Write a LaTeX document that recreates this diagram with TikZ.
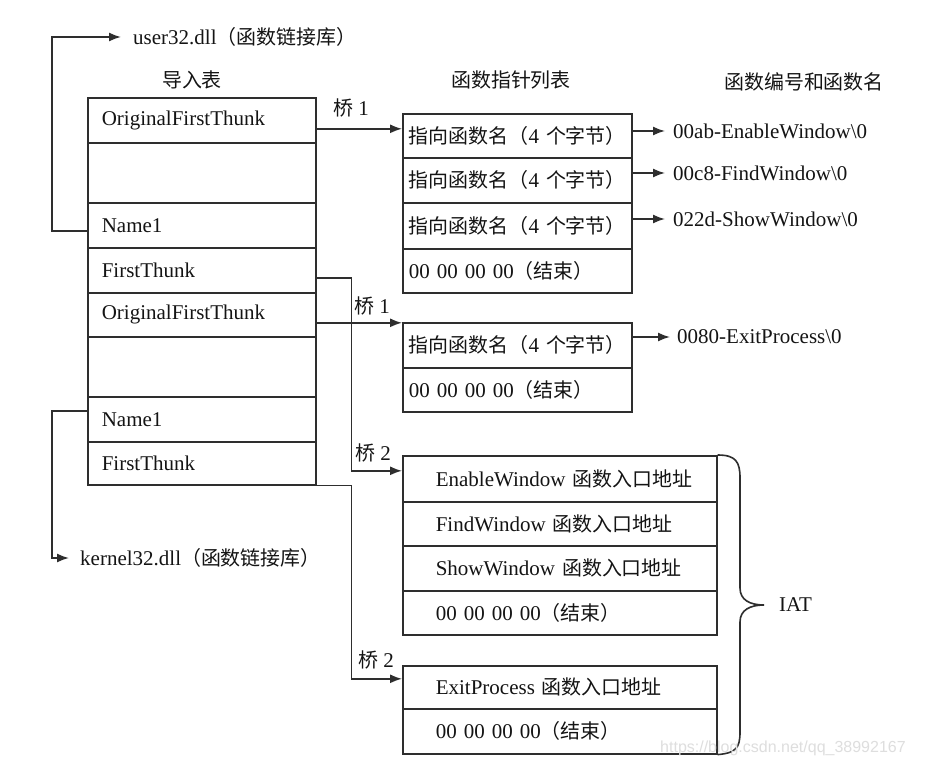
\documentclass[tikz,border=0pt]{standalone}
\usepackage{fontspec}
\setmainfont{Liberation Serif}
\newfontfamily\cjk{Noto Sans CJK SC}[Scale=0.95]
\newfontfamily\wmfont{Liberation Sans}
\usetikzlibrary{arrows.meta,calc}
\newcommand\zh[1]{{\cjk #1}}
\begin{document}
\begin{tikzpicture}[x=1pt,y=-1pt,
  every node/.style={font=\fontsize{21}{25}\selectfont, text=black!92},
  cell/.style={draw=black!82, line width=1.6pt, anchor=north west, inner ysep=0pt, align=left},
  itcell/.style={cell, text width=200pt, inner xsep=14pt},
  fpcell/.style={cell, text width=217pt, inner xsep=6pt},
  iatcell/.style={cell, text width=248pt, inner xsep=33pt},
  conn/.style={draw=black!82, line width=1.6pt, -{Latex[length=12pt,width=9pt]}},
  lbl/.style={inner sep=0pt},
  free/.style={anchor=west, inner ysep=0pt}
]
\fill[white] (0,0) rectangle (934,767);
\useasboundingbox (0,0) rectangle (934,767);

% headers
\node[lbl] (h1) at (192,80) {\zh{导入表}};
\node[lbl] (h2) at (511,80) {\zh{函数指针列表}};
\node[lbl] (h3) at (804,82) {\zh{函数编号和函数名}};

% import table
\node[itcell, minimum height=45pt] (it1) at (87,97)  {OriginalFirstThunk};
\node[itcell, minimum height=60pt] (it2) at (87,142) {};
\node[itcell, minimum height=45pt] (it3) at (87,202) {Name1};
\node[itcell, minimum height=45pt] (it4) at (87,247) {FirstThunk};
\node[itcell, minimum height=44pt] (it5) at (87,292) {OriginalFirstThunk};
\node[itcell, minimum height=60pt] (it6) at (87,336) {};
\node[itcell, minimum height=45pt] (it7) at (87,396) {Name1};
\node[itcell, minimum height=43pt] (it8) at (87,441) {FirstThunk};

% function pointer list A
\node[fpcell, minimum height=44pt] (fa1) at (402,113) {\mbox{\zh{指向函数名（}4 \zh{个字节）}}};
\node[fpcell, minimum height=45pt] (fa2) at (402,157) {\mbox{\zh{指向函数名（}4 \zh{个字节）}}};
\node[fpcell, minimum height=46pt] (fa3) at (402,202) {\mbox{\zh{指向函数名（}4 \zh{个字节）}}};
\node[fpcell, minimum height=44pt] (fa4) at (402,248) {\mbox{00 00 00 00\zh{（结束）}}};

% function pointer list B
\node[fpcell, minimum height=45pt] (fb1) at (402,322) {\mbox{\zh{指向函数名（}4 \zh{个字节）}}};
\node[fpcell, minimum height=44pt] (fb2) at (402,367) {\mbox{00 00 00 00\zh{（结束）}}};

% IAT A
\node[iatcell, minimum height=46pt] (ia1) at (402,455) {\mbox{EnableWindow \zh{函数入口地址}}};
\node[iatcell, minimum height=44pt] (ia2) at (402,501) {\mbox{FindWindow \zh{函数入口地址}}};
\node[iatcell, minimum height=45pt] (ia3) at (402,545) {\mbox{ShowWindow \zh{函数入口地址}}};
\node[iatcell, minimum height=44pt] (ia4) at (402,590) {\mbox{00 00 00 00\zh{（结束）}}};

% IAT B
\node[iatcell, minimum height=43pt] (ib1) at (402,665) {\mbox{ExitProcess \zh{函数入口地址}}};
\node[iatcell, minimum height=45pt] (ib2) at (402,708) {\mbox{00 00 00 00\zh{（结束）}}};

% dll names
\node[free, inner xsep=12pt] (user32) at (121,37) {user32.dll\zh{（函数链接库）}};
\node[free, inner xsep=11pt] (kernel) at (69,558) {kernel32.dll\zh{（函数链接库）}};

% function names
\node[free, inner xsep=8pt] (n1) at (665,131) {00ab-EnableWindow\textbackslash 0};
\node[free, inner xsep=8pt] (n2) at (665,173) {00c8-FindWindow\textbackslash 0};
\node[free, inner xsep=8pt] (n3) at (665,219) {022d-ShowWindow\textbackslash 0};
\node[free, inner xsep=7pt] (n4) at (670,337) {0080-ExitProcess\textbackslash 0};

% connectors to dlls
\draw[conn] ([yshift=-5.5pt]it3.west) -- ++(-35,0) |- (user32.west);
\draw[conn] ([yshift=8.5pt]it7.west) -- ++(-35,0) |- (kernel.west);

% bridges
\draw[conn] ([yshift=-8.5pt]it1.east) -- ([yshift=-8.5pt]it1.east -| fa1.west);
\node[lbl] (b1a) at (351,108) {\zh{桥} 1};
\draw[conn] ([yshift=-8pt]it5.east) -- ([yshift=-8pt]it5.east -| fb1.west);
\node[lbl] (b1b) at (372,306) {\zh{桥} 1};
\draw[conn] ([yshift=-7.5pt]it4.east) -- ++(35,0) |- ([yshift=8pt]ia1.west);
\node[lbl] (b2a) at (373,453) {\zh{桥} 2};
\draw[conn] (it8.south east) -- ++(35,0) |- ([yshift=8.5pt]ib1.west);
\node[lbl] (b2b) at (376,660) {\zh{桥} 2};

% name arrows
\draw[conn] (fa1.east |- n1.west) -- (n1.west);
\draw[conn] (fa2.east |- n2.west) -- (n2.west);
\draw[conn] (fa3.east |- n3.west) -- (n3.west);
\draw[conn] (fb1.east |- n4.west) -- (n4.west);

% IAT brace
\draw[draw=black!82, line width=1.6pt] (ia1.north east) .. controls (736,455) and (740,462) .. (740,478)
  -- (740,588) .. controls (740,600) and (750,605) .. (764,605)
  .. controls (750,605) and (740,610) .. (740,622)
  -- (740,732) .. controls (740,748) and (736,753) .. (ib2.south east);
\node[free, inner xsep=0pt] (iat) at (779,605) {IAT};

% watermark
\node[free, inner sep=0pt, font=\wmfont\fontsize{16}{19}\selectfont, text=black!13] (wm) at (660,748) {https://blog.csdn.net/qq\_38992167};
\end{tikzpicture}
\end{document}
